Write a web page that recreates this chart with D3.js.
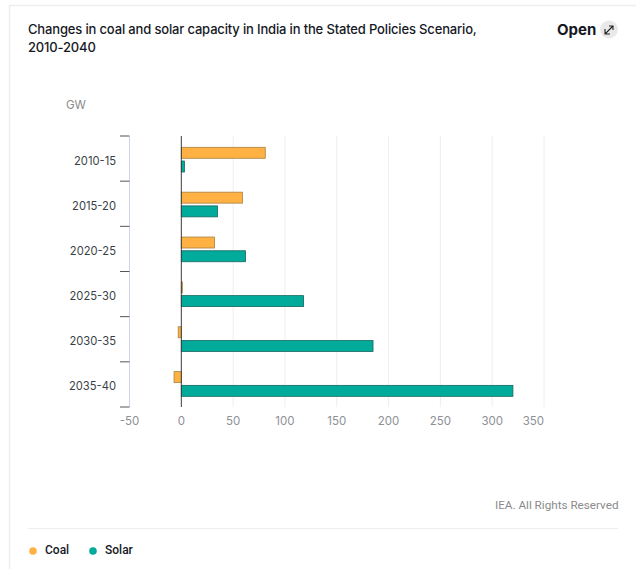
<!DOCTYPE html>
<html>
<head>
<meta charset="utf-8">
<script src="https://cdn.jsdelivr.net/npm/d3@7/dist/d3.min.js"></script>
<style>
  html, body { margin: 0; padding: 0; background: #fff; }
  svg { display: block; }
  text { font-family: Inter, "Noto Sans", sans-serif; }
</style>
</head>
<body>
<svg id="chart" width="636" height="569"></svg>
<script>
const periods = ["2010-15", "2015-20", "2020-25", "2025-30", "2030-35", "2035-40"];
const coal = [81, 59, 32, 1, -3, -7];
const solar = [3, 35, 62, 118, 185, 320];
const xTicks = [-50, 0, 50, 100, 150, 200, 250, 300, 350];
const titleLines = ["Changes in coal and solar capacity in India in the Stated Policies Scenario,", "2010-2040"];
const seriesNames = ["Coal", "Solar"];
const seriesColors = ["#ffb143", "#00ab9c"];
const seriesEdges = ["#a8803f", "#14685f"];

const svg = d3.select("#chart");
const x = d3.scaleLinear().domain([-50, 350]).range([129.5, 544]);
const y = d3.scaleBand().domain(periods).range([136, 407]);
// Bar rows run on a slightly tighter step than the axis bands
const barRow = d3.scaleBand().domain(periods).range([136, 405.2]);
const inner = d3.scaleBand().domain(seriesNames).range([11.3, 36]).paddingInner(0.2);

// Card outline
svg.append("path").attr("d", "M9.5,569V5.5H636").attr("fill", "none").attr("stroke", "#eeeeee").attr("stroke-width", 1.5);

// Heading
svg.append("g").selectAll("text").data(titleLines).join("text")
  .attr("x", 28).attr("y", (d, i) => 34 + i * 18)
  .attr("font-size", 13).attr("letter-spacing", -0.16).attr("font-weight", 500).attr("fill", "#16191f").text(d => d);

// Open control
svg.append("text").attr("x", 557).attr("y", 35).attr("font-size", 15).attr("font-weight", 700).attr("fill", "#16191f").text("Open");
svg.append("circle").attr("cx", 609).attr("cy", 29.5).attr("r", 9).attr("fill", "#e9e9e9");
svg.append("path").attr("d", "M605.5,33.5L612.5,26.5M609,26H613V30M605,29V34H610")
  .attr("fill", "none").attr("stroke", "#222").attr("stroke-width", 1.1);

// Unit
svg.append("text").attr("x", 66).attr("y", 109).attr("font-size", 11.5).attr("fill", "#8a8a8a").text("GW");

// Vertical gridlines
svg.append("g").selectAll("line").data(xTicks.filter(d => d > 0)).join("line")
  .attr("x1", d => x(d)).attr("x2", d => x(d)).attr("y1", 136).attr("y2", 407)
  .attr("stroke", "#eeeeee").attr("stroke-width", 1);

// Bars
const rows = svg.append("g").selectAll("g").data(periods).join("g")
  .attr("transform", d => `translate(0,${barRow(d)})`);
[coal, solar].forEach((values, s) => {
  rows.append("rect")
    .attr("x", (d, i) => x(Math.min(0, values[i])))
    .attr("y", inner(seriesNames[s]))
    .attr("width", (d, i) => Math.abs(x(values[i]) - x(0)))
    .attr("height", inner.bandwidth())
    .attr("fill", seriesColors[s])
    .attr("stroke", seriesEdges[s])
    .attr("stroke-width", 0.8);
});

// Zero line
svg.append("line").attr("x1", x(0)).attr("x2", x(0)).attr("y1", 136).attr("y2", 407)
  .attr("stroke", "#3c3c3c").attr("stroke-width", 1);

// Category axis, ticks on band boundaries
svg.append("line").attr("x1", 129.5).attr("x2", 129.5).attr("y1", 136).attr("y2", 407)
  .attr("stroke", "#ccd3e6").attr("stroke-width", 1);
svg.append("g").selectAll("line").data(periods.concat(["end"])).join("line")
  .attr("x1", 120).attr("x2", 129.5)
  .attr("y1", (d, i) => i < periods.length ? y(d) : y.range()[1])
  .attr("y2", (d, i) => i < periods.length ? y(d) : y.range()[1])
  .attr("stroke", "#555").attr("stroke-width", 1);
svg.append("g").selectAll("text").data(periods).join("text")
  .attr("x", 116).attr("y", d => y(d) + y.bandwidth() / 2 + 6)
  .attr("text-anchor", "end").attr("font-size", 11.2).attr("fill", "#3a3f47").text(d => d);

// Value axis labels; the last one is pulled inside the plot edge
svg.append("g").selectAll("text").data(xTicks).join("text")
  .attr("x", d => x(d)).attr("y", 425)
  .attr("text-anchor", (d, i) => i === xTicks.length - 1 ? "end" : "middle")
  .attr("font-size", 11.5).attr("fill", "#8d9096").text(d => d);

// Credit
svg.append("text").attr("x", 618.5).attr("y", 509).attr("text-anchor", "end")
  .style("font-family", "Roboto, sans-serif").attr("font-size", 11.7).attr("fill", "#8a8a8a")
  .text("IEA. All Rights Reserved");

// Legend
svg.append("line").attr("x1", 28).attr("x2", 618).attr("y1", 528.5).attr("y2", 528.5).attr("stroke", "#eeeeee");
const legendX = [33, 93];
const legend = svg.append("g").selectAll("g").data(seriesNames).join("g");
legend.append("circle").attr("cx", (d, i) => legendX[i]).attr("cy", 551).attr("r", 3.8)
  .attr("fill", (d, i) => seriesColors[i]);
legend.append("text").attr("x", (d, i) => legendX[i] + 12).attr("y", 554)
  .style("font-family", "Roboto, sans-serif").attr("font-size", 12).attr("font-weight", 500).attr("fill", "#16191f").text(d => d);
</script>
</body>
</html>
